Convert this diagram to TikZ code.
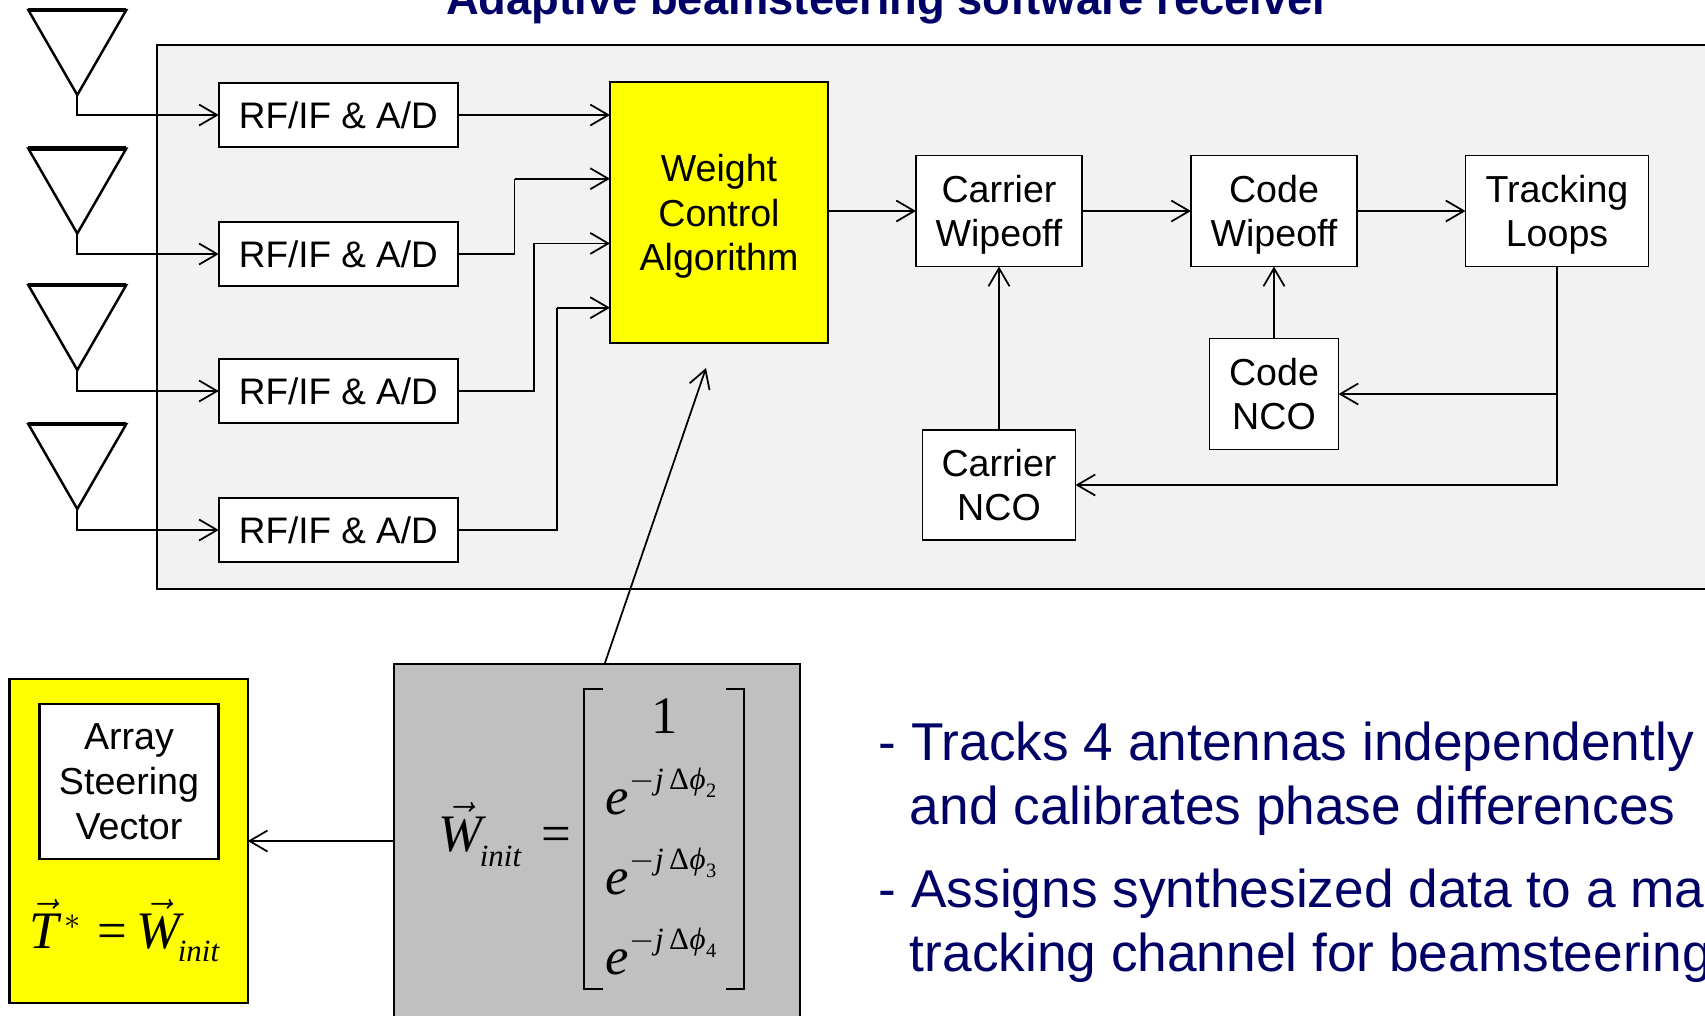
\documentclass[tikz,border=0pt]{standalone}
\usepackage{amsmath}
\usepackage{mathspec}
\setmainfont{Liberation Sans}
\setmathsfont(Digits,Latin,Greek)[Uppercase=Italic,Lowercase=Italic]{Liberation Serif}
\setmathrm{Liberation Serif}
\newfontfamily\uprightserif{Liberation Serif}
\DeclareMathSizes{15}{15}{8.8}{5.8}
\DeclareMathSizes{8.8}{8.8}{5.8}{5}
\usetikzlibrary{arrows.meta,shapes.geometric}
\definecolor{titleblue}{RGB}{0,0,102}
\definecolor{panelgray}{RGB}{242,242,242}
\definecolor{initgray}{RGB}{192,192,192}
\definecolor{boxyellow}{RGB}{255,255,0}
\newcommand{\phaseterm}[1]{$-j\,\text{\uprightserif Δ}\varphi_{#1}$}
\tikzset{
  >={Straight Barb[length=0.18cm,width=0.21cm]},
  block/.style={draw, fill=white, align=center, inner sep=0pt, outer sep=0pt, text depth=-0.5pt, font=\fontsize{10.7pt}{12.7pt}\selectfont},
  rfblock/.style={block, minimum width=2.39cm, minimum height=0.64cm, text depth=0pt, font=\fontsize{10.5pt}{12.7pt}\selectfont},
  wipeblock/.style={block, minimum width=1.66cm, minimum height=1.11cm},
  yellowblock/.style={block, fill=boxyellow},
  antenna/.style={draw, shape=isosceles triangle, shape border rotate=270, isosceles triangle stretches, minimum width=0.98cm, minimum height=0.85cm, inner sep=0pt, outer sep=0pt, anchor=apex, line width=0.7pt},
  antennatop/.style={line width=1.2pt},
  bullettext/.style={anchor=base west, inner sep=0pt, text=titleblue, font=\fontsize{15.15pt}{18pt}\selectfont},
  formula/.style={inner sep=0pt, anchor=base west, font=\fontsize{15pt}{18pt}\selectfont},
  smallformula/.style={inner sep=0pt, anchor=base west, font=\fontsize{8.8pt}{10pt}\selectfont},
  matbracket/.style={line width=0.6pt}
}
\begin{document}
\begin{tikzpicture}[line width=0.5pt]
\clip (0,0) rectangle (17.05,-10.15);
\draw[fill=panelgray, line width=0.6pt] (1.57,-0.45) rectangle (18,-5.89);
\node[anchor=base, inner sep=0pt, text=titleblue, font=\fontsize{12.9pt}{15pt}\selectfont\bfseries] (title) at (8.885,-0.14) {Adaptive beamsteering software receiver};

\node[antenna] (ant1) at (0.773,-0.95) {};
\node[antenna] (ant2) at (0.773,-2.335) {};
\node[antenna] (ant3) at (0.773,-3.70) {};
\node[antenna] (ant4) at (0.773,-5.09) {};
\draw[antennatop] (ant1.left corner) -- (ant1.right corner);
\draw[antennatop] (ant2.left corner) -- (ant2.right corner);
\draw[antennatop] (ant3.left corner) -- (ant3.right corner);
\draw[antennatop] (ant4.left corner) -- (ant4.right corner);

\node[rfblock] (rf1) at (3.383,-1.15) {RF/IF \& A/D};
\node[rfblock] (rf2) at (3.383,-2.54) {RF/IF \& A/D};
\node[rfblock] (rf3) at (3.383,-3.91) {RF/IF \& A/D};
\node[rfblock] (rf4) at (3.383,-5.30) {RF/IF \& A/D};
\node[yellowblock, minimum width=2.18cm, minimum height=2.61cm] (weight) at (7.19,-2.125) {Weight\\Control\\Algorithm};

\node[wipeblock] (cwipe) at (9.99,-2.11) {Carrier\\Wipeoff};
\node[wipeblock] (codewipe) at (12.74,-2.11) {Code\\Wipeoff};
\node[block, minimum width=1.83cm, minimum height=1.11cm] (track) at (15.57,-2.11) {Tracking\\Loops};
\node[block, minimum width=1.29cm, minimum height=1.11cm] (codenco) at (12.74,-3.94) {Code\\NCO};
\node[block, minimum width=1.53cm, minimum height=1.10cm] (carnco) at (9.99,-4.85) {Carrier\\NCO};

\coordinate (in2) at (6.10,-1.787);
\coordinate (in3) at (6.10,-2.434);
\coordinate (in4) at (6.10,-3.077);
\coordinate (turn2) at (5.145,-1.787);
\coordinate (turn3) at (5.343,-2.434);
\coordinate (turn4) at (5.568,-3.077);

\draw[->] (ant1.apex) |- (rf1.west);
\draw[->] (ant2.apex) |- (rf2.west);
\draw[->] (ant3.apex) |- (rf3.west);
\draw[->] (ant4.apex) |- (rf4.west);
\draw[->] (rf1.east) -- (rf1.east -| weight.west);
\draw (rf2.east) -| (turn2);
\draw[->] (turn2) -- (in2);
\draw (rf3.east) -| (turn3);
\draw[->] (turn3) -- (in3);
\draw (rf4.east) -| (turn4);
\draw[->] (turn4) -- (in4);
\draw[->] (weight.east |- cwipe.west) -- (cwipe.west);
\draw[->] (cwipe) -- (codewipe);
\draw[->] (codewipe) -- (track);
\draw[->] (carnco) -- (cwipe);
\draw[->] (codenco) -- (codewipe);
\draw[->] (track.south) |- (codenco.east);
\draw[->] (track.south) |- (carnco.east);

\node[draw, fill=boxyellow, minimum width=2.383cm, minimum height=3.237cm, inner sep=0pt, outer sep=0pt, line width=0.6pt] (steer) at (1.286,-8.41) {};
\node[block, line width=0.6pt, minimum width=1.79cm, minimum height=1.55cm, text depth=-1pt] (array) at (1.29,-7.815) {Array\\Steering\\Vector};
\node[draw, fill=initgray, minimum width=4.06cm, minimum height=4.36cm, inner sep=0pt, outer sep=0pt, line width=0.6pt] (initbox) at (5.97,-8.82) {};
\coordinate (tipw) at (7.06,-3.68);
\draw[->] ([xshift=0.076cm]initbox.north) -- (tipw);
\draw[->] (initbox.west |- steer.east) -- (steer.east);

\node[formula] (tstar) at (0.29,-9.48) {$\vec{T}^{\,*}$};
\node[formula] (eqleft) at (0.97,-9.48) {\uprightserif =};
\node[formula] (wleft) at (1.36,-9.48) {$\vec{W}$};
\node[smallformula] (initleft) at (1.77,-9.617) {$init$};
\node[formula] (winit) at (4.38,-8.517) {$\vec{W}$};
\node[smallformula] (initright) at (4.79,-8.66) {$init$};
\node[formula] (eqright) at (5.405,-8.517) {\uprightserif =};
\node[formula, anchor=base] (one) at (6.65,-7.33) {$1$};
\node[formula] (phi2) at (6.05,-8.14) {$e$};
\node[formula] (phi3) at (6.05,-8.94) {$e$};
\node[formula] (phi4) at (6.05,-9.74) {$e$};
\node[smallformula] (exp2) at (6.29,-7.89) {\phaseterm{2}};
\node[smallformula] (exp3) at (6.29,-8.69) {\phaseterm{3}};
\node[smallformula] (exp4) at (6.29,-9.49) {\phaseterm{4}};
\draw[matbracket] (6.025,-6.89) -- (5.84,-6.89) -- (5.84,-9.89) -- (6.025,-9.89);
\draw[matbracket] (7.255,-6.89) -- (7.44,-6.89) -- (7.44,-9.89) -- (7.255,-9.89);

\node[bullettext] (line1) at (8.78,-7.60) {- Tracks 4 antennas independently};
\node[bullettext] (line2) at (9.09,-8.24) {and calibrates phase differences};
\node[bullettext] (line3) at (8.78,-9.075) {- Assigns synthesized data to a ma};
\node[bullettext] (line4) at (9.09,-9.715) {tracking channel for beamsteering};
\end{tikzpicture}
\end{document}
